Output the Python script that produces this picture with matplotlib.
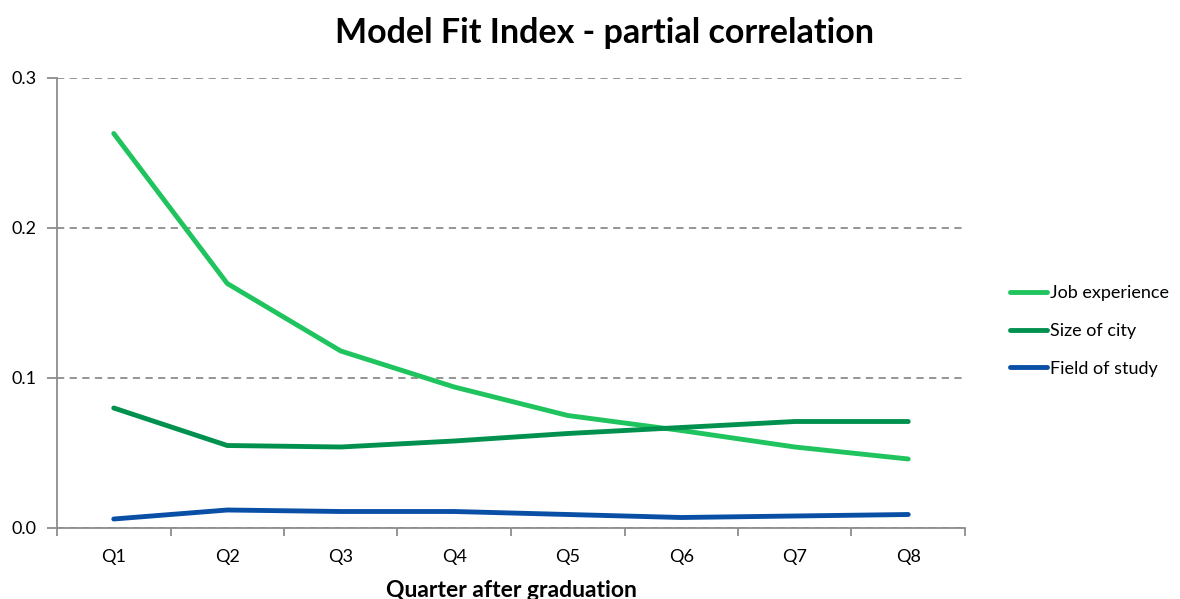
import matplotlib
matplotlib.use("Agg")
import matplotlib.pyplot as plt
import numpy as np

plt.rcParams["font.family"] = ["Lato", "DejaVu Sans"]

quarters = ["Q1", "Q2", "Q3", "Q4", "Q5", "Q6", "Q7", "Q8"]
job_experience = [0.263, 0.163, 0.118, 0.094, 0.075, 0.065, 0.054, 0.046]
size_of_city = [0.080, 0.055, 0.054, 0.058, 0.063, 0.067, 0.071, 0.071]
field_of_study = [0.006, 0.012, 0.011, 0.011, 0.009, 0.007, 0.008, 0.009]

series = [
    ("Job experience", job_experience, "#1fc45e"),
    ("Size of city", size_of_city, "#00914e"),
    ("Field of study", field_of_study, "#0a4fa6"),
]

AXIS_GREY = "#8c8c8c"

fig = plt.figure(figsize=(11.8, 5.99), dpi=100)
ax = fig.add_axes([57 / 1180, 71 / 599, 908 / 1180, 450 / 599])

x = np.arange(len(quarters))
for name, vals, col in series:
    ax.plot(x, vals, color=col, linewidth=3.5, label=name, solid_capstyle="round",
            solid_joinstyle="round", zorder=3)

ax.set_xlim(-0.5, len(quarters) - 0.5)
ax.set_ylim(0, 0.3)
ax.set_yticks([0.0, 0.1, 0.2, 0.3])
ax.set_yticklabels(["0.0", "0.1", "0.2", "0.3"], fontsize=13)
ax.set_xticks(x)
ax.set_xticklabels(quarters, fontsize=13)
ax.set_xticks(np.arange(-0.5, len(quarters)), minor=True)
ax.tick_params(axis="x", which="major", length=0, pad=15)
ax.tick_params(axis="x", which="minor", length=6, width=1.3, color=AXIS_GREY, direction="out")
ax.tick_params(axis="y", length=7, width=1.3, color=AXIS_GREY, direction="out", pad=8)

ax.yaxis.grid(True, linestyle=(0, (4, 3)), color="#8c8c8c", linewidth=1.3)
ax.set_axisbelow(True)
for s in ["top", "right"]:
    ax.spines[s].set_visible(False)
for s in ["left", "bottom"]:
    ax.spines[s].set_color(AXIS_GREY)
    ax.spines[s].set_linewidth(1.3)

ax.set_xlabel("Quarter after graduation", fontsize=16.5, fontweight="bold", labelpad=11)
fig.suptitle("Model Fit Index - partial correlation", fontsize=24.5, fontweight="bold",
             x=0.512, y=0.972)

ax.legend(loc="center left", bbox_to_anchor=(1.05, 0.438), frameon=False, fontsize=13,
          handlelength=2.0, handletextpad=0.2, labelspacing=1.2,
          borderpad=0, borderaxespad=0)

fig.savefig("out.png", dpi=100)
